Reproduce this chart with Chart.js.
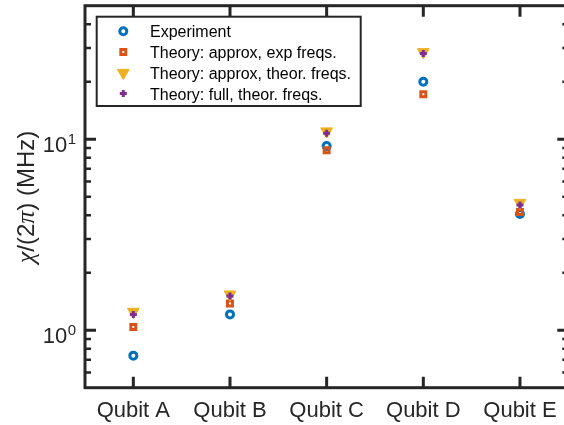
<!DOCTYPE html>
<html>
<head>
<meta charset="utf-8">
<script src="https://cdn.jsdelivr.net/npm/chart.js@4/dist/chart.umd.min.js"></script>
<style>
  html, body { margin: 0; padding: 0; background: #fff; overflow: hidden; }
  #wrap { width: 564px; height: 425px; overflow: hidden; }
  canvas { display: block; }
</style>
</head>
<body>
<div id="wrap"><canvas id="chi" width="576" height="425"></canvas></div>
<script>
// dispersive shifts per qubit, MHz
const qubits = ['Qubit A', 'Qubit B', 'Qubit C', 'Qubit D', 'Qubit E'];
const experiment = [0.736, 1.21, 9.22, 20.0, 4.06];
const approxExpFreqs = [1.04, 1.38, 8.75, 17.2, 4.16];
const approxTheorFreqs = [1.25, 1.54, 11.0, 28.6, 4.65];
const fullTheorFreqs = [1.21, 1.51, 10.75, 28.1, 4.53];

const legendLabels = [
  'Experiment',
  'Theory: approx, exp freqs.',
  'Theory: approx, theor. freqs.',
  'Theory: full, theor. freqs.'
];

// log axis ticks
const yMin = 0.5;
const yMax = 50;
const yMajorTicks = [1, 10];
const yMajorExp = ['0', '1'];
const yMinorTicks = [0.6, 0.7, 0.8, 0.9, 2, 3, 4, 5, 6, 7, 8, 9, 20, 30, 40];

const axisColor = '#262626';

function markerSet(label, data, color, style, extra) {
  return Object.assign({
    label: label,
    data: data,
    showLine: false,
    pointStyle: style,
    pointRadius: 3.5,
    pointBorderWidth: 3,
    pointBorderColor: color,
    pointBackgroundColor: 'rgba(0,0,0,0)',
    pointHoverRadius: 3.5,
    pointRotation: 0
  }, extra || {});
}

const datasets = [
  markerSet(legendLabels[0], experiment, '#0072BD', 'circle', { order: 4 }),
  markerSet(legendLabels[1], approxExpFreqs, '#D95319', 'rect', { order: 3 }),
  markerSet(legendLabels[2], approxTheorFreqs, '#EDB120', 'triangle', {
    order: 2, pointRadius: 6.8, pointHoverRadius: 6.8, pointBorderWidth: 1,
    pointBackgroundColor: '#EDB120', pointRotation: 180
  }),
  markerSet(legendLabels[3], fullTheorFreqs, '#7E2F8E', 'cross', { order: 1 })
];

// matlab-style box, inward ticks, superscript tick labels, title and legend
const boxAxes = {
  id: 'boxAxes',
  afterDraw(chart) {
    const ctx = chart.ctx;
    const a = chart.chartArea;
    const xs = chart.scales.x;
    const ys = chart.scales.y;
    ctx.save();

    ctx.strokeStyle = axisColor;
    ctx.lineWidth = 3;
    ctx.strokeRect(a.left, a.top, a.right - a.left, a.bottom - a.top);

    ctx.beginPath();
    qubits.forEach((q, i) => {
      const x = xs.getPixelForValue(i);
      ctx.moveTo(x, a.bottom); ctx.lineTo(x, a.bottom - 11);
      ctx.moveTo(x, a.top); ctx.lineTo(x, a.top + 11);
    });
    yMajorTicks.forEach(v => {
      const y = ys.getPixelForValue(v);
      ctx.moveTo(a.left, y); ctx.lineTo(a.left + 11, y);
      ctx.moveTo(a.right, y); ctx.lineTo(a.right - 11, y);
    });
    ctx.stroke();

    ctx.lineWidth = 2.5;
    ctx.beginPath();
    yMinorTicks.forEach(v => {
      const y = ys.getPixelForValue(v);
      ctx.moveTo(a.left, y); ctx.lineTo(a.left + 6, y);
      ctx.moveTo(a.right, y); ctx.lineTo(a.right - 6, y);
    });
    ctx.stroke();

    // tick labels
    ctx.fillStyle = axisColor;
    ctx.font = '22px "Liberation Sans", Arial, sans-serif';
    ctx.textAlign = 'center';
    ctx.textBaseline = 'alphabetic';
    qubits.forEach((q, i) => {
      ctx.fillText(q, xs.getPixelForValue(i), 417);
    });

    yMajorTicks.forEach((v, i) => {
      const y = ys.getPixelForValue(v);
      ctx.textAlign = 'right';
      ctx.font = '15px "Liberation Sans", Arial, sans-serif';
      ctx.fillText(yMajorExp[i], 76, y + 4.5);
      const supW = ctx.measureText(yMajorExp[i]).width;
      ctx.font = '22px "Liberation Sans", Arial, sans-serif';
      ctx.fillText('10', 76 - supW - 0.5, y + 12.5);
    });

    // y title: χ/(2π) (MHz)
    const parts = [
      { t: 'χ', f: 'italic 26px "Liberation Serif", serif' },
      { t: '/(2', f: '24px "Liberation Sans", Arial, sans-serif' },
      { t: 'π', f: 'italic 26px "Liberation Serif", serif' },
      { t: ') (MHz)', f: '24px "Liberation Sans", Arial, sans-serif' }
    ];
    let total = 0;
    parts.forEach(p => { ctx.font = p.f; p.w = ctx.measureText(p.t).width; total += p.w; });
    ctx.translate(33.5, 197);
    ctx.rotate(-Math.PI / 2);
    ctx.textAlign = 'left';
    let cx = -total / 2;
    parts.forEach(p => { ctx.font = p.f; ctx.fillText(p.t, cx, 0); cx += p.w; });
    ctx.setTransform(1, 0, 0, 1, 0, 0);

    // legend
    const lx = 96.7, ly = 16.7, lw = 264, lh = 89.3;
    ctx.fillStyle = '#ffffff';
    ctx.fillRect(lx, ly, lw, lh);
    ctx.strokeStyle = axisColor;
    ctx.lineWidth = 2;
    ctx.strokeRect(lx, ly, lw, lh);

    datasets.forEach((ds, i) => {
      const cy = 31.2 + i * 20.8;
      ctx.strokeStyle = ds.pointBorderColor;
      ctx.fillStyle = ds.pointBackgroundColor;
      ctx.lineWidth = ds.pointBorderWidth;
      Chart.helpers.drawPoint(ctx, {
        pointStyle: ds.pointStyle,
        rotation: ds.pointRotation,
        radius: ds.pointRadius,
        borderWidth: ds.pointBorderWidth
      }, 123.3, cy);
      ctx.fillStyle = '#000000';
      ctx.font = '16px "Liberation Sans", Arial, sans-serif';
      ctx.textAlign = 'left';
      ctx.fillText(ds.label, 150, cy + 6);
    });

    ctx.restore();
  }
};

new Chart(document.getElementById('chi'), {
  type: 'line',
  data: { labels: qubits, datasets: datasets },
  options: {
    responsive: false,
    animation: false,
    events: [],
    // canvas is a little wider than the page, so the right edge of the box is cut off
    layout: { autoPadding: false, padding: { left: 85, right: 7.7, top: 5.7, bottom: 37.3 } },
    plugins: { legend: { display: false }, tooltip: { enabled: false } },
    scales: {
      x: { type: 'category', offset: true, display: false },
      y: { type: 'logarithmic', min: yMin, max: yMax, display: false }
    }
  },
  plugins: [boxAxes]
});
</script>
</body>
</html>
